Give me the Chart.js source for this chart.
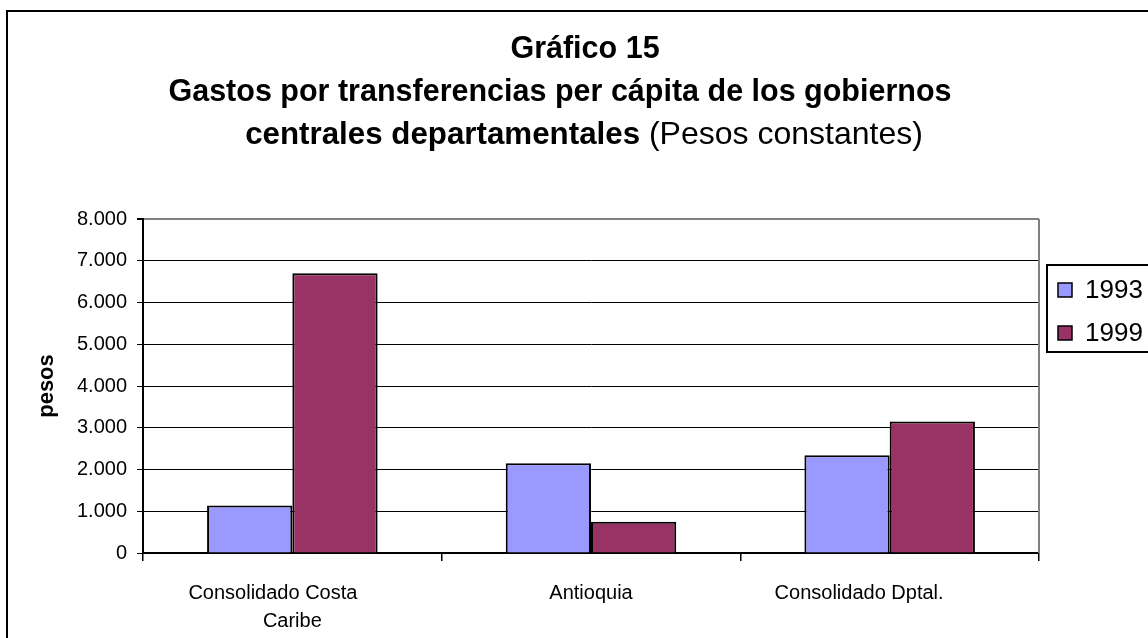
<!DOCTYPE html>
<html>
<head>
<meta charset="utf-8">
<script src="https://cdn.jsdelivr.net/npm/chart.js@4.4.1/dist/chart.umd.min.js"></script>
<style>
  body { margin: 0; background: #fff; }
  #wrap { width: 1148px; height: 638px; }
</style>
</head>
<body>
<div id="wrap"><canvas id="myChart" width="1148" height="638"></canvas></div>
<script>
// ---------------------------------- data ----------------------------------
const categories = [["Consolidado Costa", "Caribe"], "Antioquia", "Consolidado Dptal."];
const values1993 = [1140, 2150, 2340];
const values1999 = [6700, 750, 3150];
const seriesNames = ["1993", "1999"];
const titleLines = ["Gráfico 15", "Gastos por transferencias per cápita de los gobiernos"];
const titleBold3 = "centrales departamentales";
const titleNormal3 = " (Pesos constantes)";

Chart.defaults.color = "#000";
Chart.defaults.font.family = "'Liberation Sans', Arial, sans-serif";

// trailing spaces nudge some labels left, like the original layout
const labelNudge = [7, 0, 11];

// title, outer frame, plot border and legend drawn on the canvas
const decorPlugin = {
    id: "decor",
    beforeDraw(chart) {
        const ctx = chart.ctx;
        ctx.save();
        ctx.fillStyle = "#fff";
        ctx.fillRect(0, 0, chart.width, chart.height);
        ctx.restore();
    },
    afterDraw(chart) {
        const ctx = chart.ctx;
        const area = chart.chartArea;
        ctx.save();
        // outer frame
        ctx.strokeStyle = "#000";
        ctx.lineWidth = 2;
        ctx.strokeRect(7, 11, 1170, 650);

        // right border of plot area
        ctx.strokeStyle = "#808080";
        ctx.lineWidth = 2;
        ctx.beginPath();
        ctx.moveTo(area.right, area.top);
        ctx.lineTo(area.right, area.bottom);
        ctx.stroke();

        // title
        const boldFont = "bold 30.5px 'Liberation Sans', Arial, sans-serif";
        const boldFont3 = "bold 31.3px 'Liberation Sans', Arial, sans-serif";
        const normFont3 = "32px 'Liberation Sans', Arial, sans-serif";
        ctx.fillStyle = "#000";
        ctx.textBaseline = "alphabetic";
        ctx.textAlign = "center";
        ctx.font = boldFont;
        ctx.fillText(titleLines[0], 585, 58);
        ctx.fillText(titleLines[1], 560, 101);
        ctx.font = boldFont3;
        const w1 = ctx.measureText(titleBold3).width;
        ctx.font = normFont3;
        const w2 = ctx.measureText(titleNormal3).width;
        let x0 = 584 - (w1 + w2) / 2;
        ctx.textAlign = "left";
        ctx.font = boldFont3;
        ctx.fillText(titleBold3, x0, 144);
        ctx.font = normFont3;
        ctx.fillText(titleNormal3, x0 + w1, 144);

        // legend
        ctx.strokeStyle = "#000";
        ctx.lineWidth = 2;
        ctx.strokeRect(1047, 265, 130, 87);
        ctx.font = "26px 'Liberation Sans', Arial, sans-serif";
        ctx.textBaseline = "middle";
        chart.data.datasets.forEach((ds, i) => {
            const y = 290 + i * 43;
            ctx.fillStyle = ds.backgroundColor;
            ctx.fillRect(1058, y - 7, 14, 14);
            ctx.lineWidth = 1.5;
            ctx.strokeRect(1058, y - 7, 14, 14);
            ctx.fillStyle = "#000";
            ctx.fillText(ds.label, 1085, y + 1);
        });
        ctx.restore();
    },
};

const data = {
    labels: categories,
    datasets: [
        {
            label: seriesNames[0],
            data: values1993,
            backgroundColor: "#9999FF",
            borderColor: "#000",
            borderWidth: 2,
        },
        {
            label: seriesNames[1],
            data: values1999,
            backgroundColor: "#993366",
            borderColor: "#000",
            borderWidth: 2,
        },
    ],
};

const config = {
    type: "bar",
    data: data,
    plugins: [decorPlugin],
    options: {
        responsive: false,
        animation: false,
        categoryPercentage: 0.571,
        barPercentage: 1.0,
        layout: {
            padding: { left: 0, top: 219, right: 109, bottom: 0 },
        },
        scales: {
            x: {
                afterFit: (scale) => { scale.height = 85; },
                border: { color: "#000", width: 2 },
                grid: {
                    drawOnChartArea: false,
                    drawTicks: true,
                    tickLength: 8,
                    color: "#000",
                    lineWidth: 1.5,
                },
                ticks: {
                    font: { size: 20, lineHeight: 1.4 },
                    padding: 18,
                    maxRotation: 0,
                    autoSkip: false,
                    callback: function (value, index) {
                        const lab = categories[index];
                        const pad = " ".repeat(labelNudge[index]);
                        if (Array.isArray(lab)) {
                            return [lab[0] + pad].concat(lab.slice(1));
                        }
                        return lab + pad;
                    },
                },
            },
            y: {
                min: 0,
                max: 8000,
                afterFit: (scale) => { scale.width = 143; },
                border: { color: "#000", width: 2 },
                grid: {
                    color: (c) => (c.tick && c.tick.value == 8000 ? "#808080" : "#000"),
                    lineWidth: (c) => (c.tick && c.tick.value == 8000 ? 2 : 1),
                    tickColor: "#000",
                    tickLength: 6,
                },
                ticks: {
                    stepSize: 1000,
                    padding: 10,
                    font: { size: 20 },
                    callback: function (value) {
                        return value.toString().replace(/\B(?=(\d{3})+(?!\d))/g, ".");
                    },
                },
                title: {
                    display: true,
                    text: "pesos",
                    font: { size: 22, weight: "bold" },
                    padding: { top: 34, bottom: 0 },
                },
            },
        },
        plugins: {
            legend: { display: false },
            tooltip: { enabled: false },
        },
    },
};

const myChart = new Chart(document.getElementById("myChart").getContext("2d"), config);
</script>
</body>
</html>
